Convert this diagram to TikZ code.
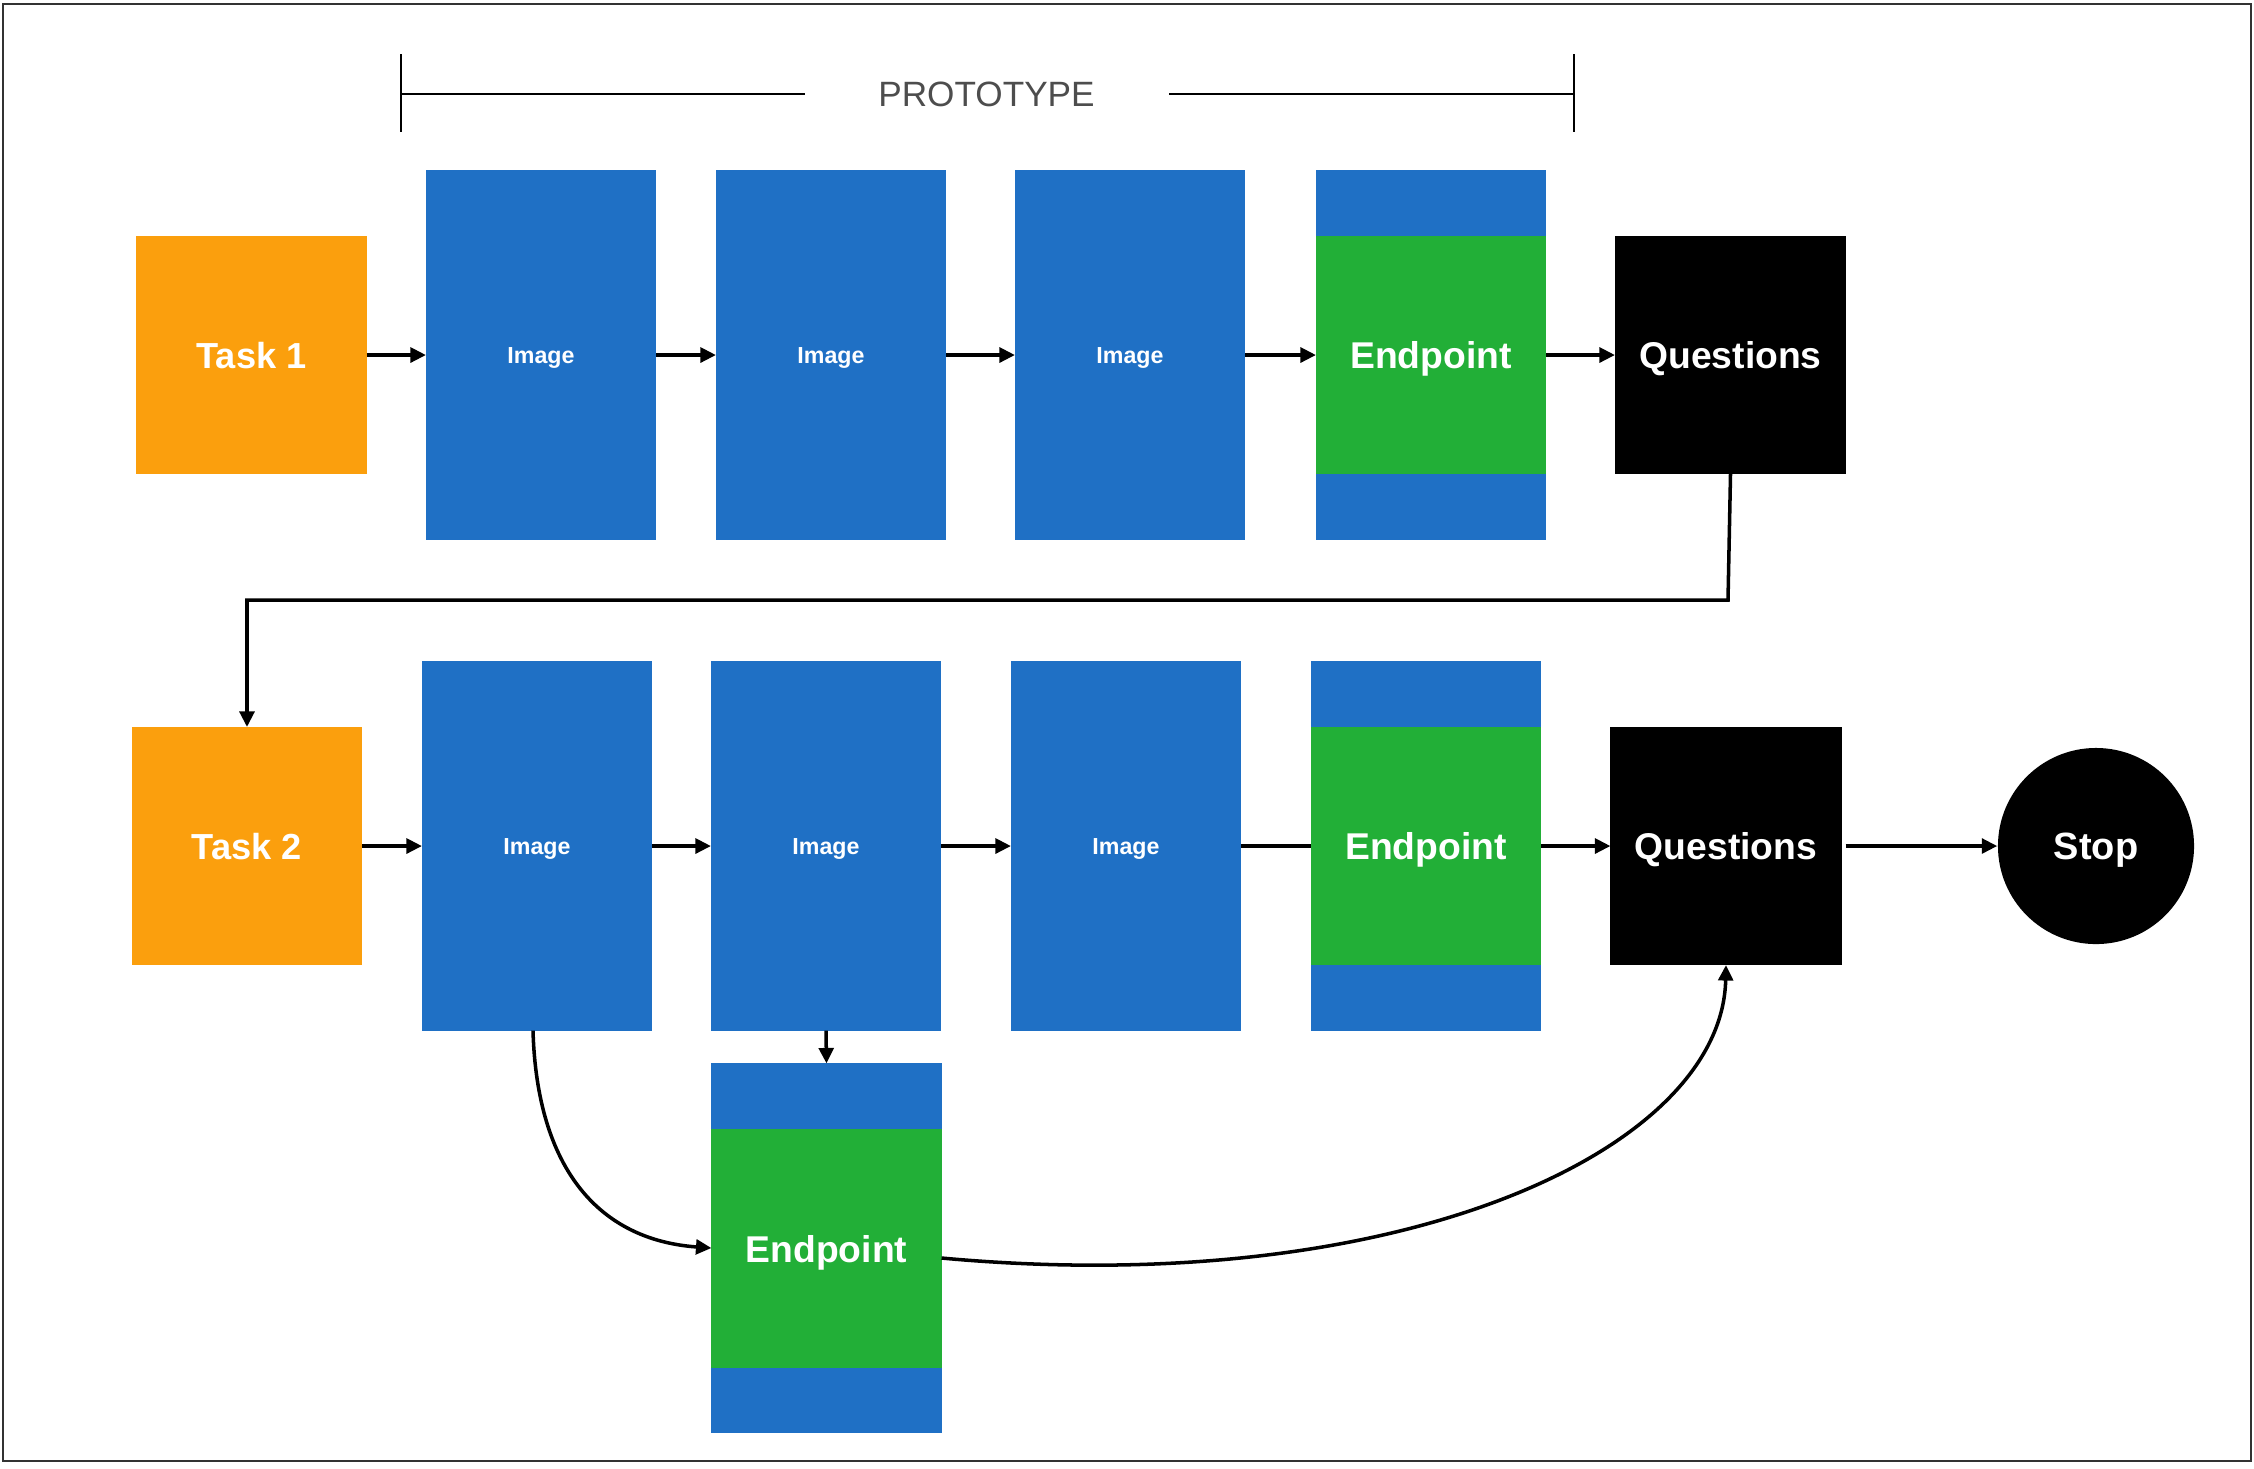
\documentclass[tikz,border=0pt]{standalone}
\usepackage{fontspec}
\setmainfont{Liberation Sans}
\usetikzlibrary{arrows.meta}
\definecolor{taskorange}{HTML}{FB9F0D}
\definecolor{imgblue}{HTML}{1F70C5}
\definecolor{epgreen}{HTML}{22AF37}
\definecolor{protogray}{HTML}{4D4D4D}
\tikzset{
  box/.style={rectangle, inner sep=0pt, outer sep=0pt, draw=none, text=white, text depth=0pt, font=\bfseries\fontsize{10.3}{12}\selectfont},
  taskbox/.style={box, fill=taskorange, minimum width=2.30cm, minimum height=2.38cm},
  imgbox/.style={box, fill=imgblue, minimum width=2.30cm, minimum height=3.69cm, font=\bfseries\fontsize{6.6}{8}\selectfont},
  epgreenbox/.style={box, fill=epgreen, minimum width=2.30cm, minimum height=2.38cm, font=\bfseries\fontsize{10.6}{12}\selectfont},
  qbox/.style={box, fill=black, minimum width=2.31cm, minimum height=2.38cm, font=\bfseries\fontsize{10.6}{12}\selectfont},
  stopnode/.style={circle, fill=black, inner sep=0pt, text depth=0pt, minimum size=1.96cm, text=white, font=\bfseries\fontsize{10.8}{12}\selectfont},
  arr/.style={draw=black, line width=1pt, -{Triangle[length=4.4pt,width=4.2pt]}},
  plainline/.style={draw=black, line width=1pt},
  bracketline/.style={draw=black, line width=0.8pt}
}
\begin{document}
\begin{tikzpicture}[x=0.01cm, y=-0.01cm]
\useasboundingbox (0,0) rectangle (2254,1468);
\draw[line width=0.5pt, black!80] (3,4) rectangle (2251,1461);

% bracket
\coordinate (bl1) at (401,54);
\coordinate (bl2) at (401,132);
\coordinate (blm) at (401,94);
\coordinate (br1) at (1574,54);
\coordinate (br2) at (1574,132);
\coordinate (brm) at (1574,94);
\node[text=protogray, font=\fontsize{10}{12}\selectfont, inner sep=0pt, text depth=0pt] (proto) at (986.5,94) {PROTOTYPE};
\coordinate (pl) at (805,94);
\coordinate (pr) at (1169,94);
\draw[bracketline] (bl1) -- (bl2);
\draw[bracketline] (br1) -- (br2);
\draw[bracketline] (blm) -- (pl);
\draw[bracketline] (pr) -- (brm);

% row 1
\node[taskbox] (task1) at (251.5,355) {Task 1};
\node[imgbox] (img1) at (541,355) {Image};
\node[imgbox] (img2) at (831,355) {Image};
\node[imgbox] (img3) at (1130,355) {Image};
\node[imgbox] (ep1) at (1431,355) {};
\node[epgreenbox] (ep1g) at (1431,355) {Endpoint};
\node[qbox] (q1) at (1730.5,355) {Questions};

% row 2
\node[taskbox] (task2) at (247,846) {Task 2};
\node[imgbox] (img4) at (537,846) {Image};
\node[imgbox] (img5) at (826,846) {Image};
\node[imgbox] (img6) at (1126,846) {Image};
\node[imgbox] (ep2) at (1426,846) {};
\node[epgreenbox] (ep2g) at (1426,846) {Endpoint};
\node[qbox] (q2) at (1726,846) {Questions};
\node[stopnode] (stop) at (2096,846) {Stop};

% lower endpoint
\node[imgbox] (ep3) at (826.5,1248) {};
\node[epgreenbox] (ep3g) at (826.5,1248.5) {Endpoint};

% connectors row 1
\draw[arr] (task1) -- (img1);
\draw[arr] (img1) -- (img2);
\draw[arr] (img2) -- (img3);
\draw[arr] (img3) -- (ep1);
\draw[arr] (ep1) -- (q1);

% q1 -> task2
\coordinate (turn) at (1728,600);
\draw[arr] (q1.south) -- (turn) -| (task2.north);

% connectors row 2
\draw[arr] (task2) -- (img4);
\draw[arr] (img4) -- (img5);
\draw[arr] (img5) -- (img6);
\draw[plainline] (img6) -- (ep2);
\draw[arr] (ep2) -- (q2);
\draw[arr] ([xshift=0.04cm]q2.east) -- (stop);

% down and curves
\draw[arr] (img5.south) -- (ep3.north);
\draw[arr] ([xshift=-0.04cm]img4.south) .. controls (537,1170) and (600,1240) .. (ep3.west);
\draw[arr] ([yshift=-0.1cm]ep3.east) .. controls (1400,1300) and (1722,1150) .. (q2.south);
\end{tikzpicture}
\end{document}
